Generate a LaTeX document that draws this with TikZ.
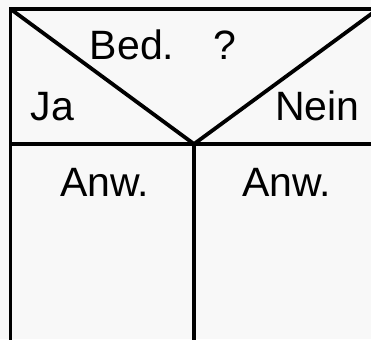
\documentclass[tikz,border=0pt]{standalone}
\usepackage{fontspec}
\setmainfont{Liberation Sans}
\definecolor{bg}{HTML}{F8F8F8}
\begin{document}
\begin{tikzpicture}[x=1pt,y=-1pt,
  ln/.style={line width=3.8pt,black},
  lbl/.style={anchor=base west,inner sep=0pt,font=\fontsize{41}{49}\selectfont}]
\useasboundingbox (0,0) rectangle (371,339);
\fill[bg] (0,0) rectangle (371,339);
\clip (0,0) rectangle (371,339);
\coordinate (tl) at (10.5,9);
\coordinate (tr) at (378,9);
\coordinate (ml) at (10.5,144);
\coordinate (mr) at (378,144);
\coordinate (mm) at (194,144);
\coordinate (bl) at (10.5,345);
\coordinate (bm) at (194,345);
\draw[ln] (tr) -- (tl) -- (bl);
\draw[ln] (ml) -- (mr);
\draw[ln] (mm) -- (bm);
\draw[ln,line join=miter] (tl) -- (mm) -- (tr);
\node[lbl] (bed) at (89.7,60) {Bed.};
\node[lbl] (q) at (213,60) {?};
\node[lbl] (ja) at (30.7,121) {Ja};
\node[lbl] (nein) at (275,121) {Nein};
\node[lbl] (anw1) at (60,196) {Anw.};
\node[lbl] (anw2) at (242,196) {Anw.};
\end{tikzpicture}
\end{document}
